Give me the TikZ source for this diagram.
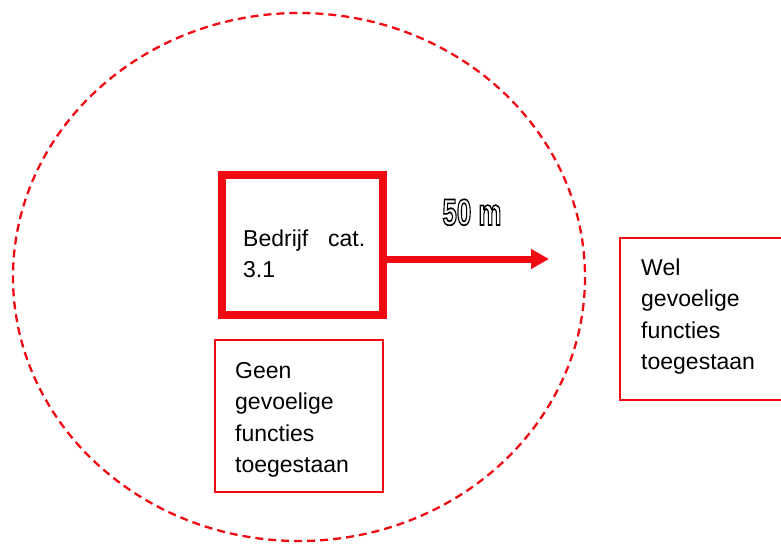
\documentclass[tikz,border=0pt]{standalone}
\usepackage{fontspec}
\setmainfont{Liberation Sans}
\usetikzlibrary{arrows.meta}
\definecolor{cred}{RGB}{240,10,20}
\newcommand{\outlinetext}[1]{\special{pdf:literal direct 2 Tr 1.6 w 0 0 0 RG 1 1 1 rg}#1\special{pdf:literal direct 0 Tr 0 0 0 rg}}
\tikzset{
  bigbox/.style={draw=cred, line width=8pt, minimum width=161pt, minimum height=140pt, inner sep=0pt, outer sep=0pt},
  thinbox/.style={draw=cred, line width=1.5pt, inner sep=0pt, outer sep=0pt},
  lbl/.style={anchor=base west, inner sep=0pt, align=left, font=\fontsize{23}{31.5}\selectfont},
  zone/.style={draw=cred, line width=2.3pt, dash pattern=on 8pt off 5pt},
  distarrow/.style={draw=cred, line width=7pt, -{Triangle[length=18pt,width=19pt]}}
}
\begin{document}
\begin{tikzpicture}[x=1pt,y=-1pt]
\useasboundingbox (0,0) rectangle (781,544);
\fill[white] (0,0) rectangle (781,544);
% zone ellipse
\draw[zone] (299,277) ellipse [x radius=286, y radius=264];
% company box
\node[bigbox] (bedrijf) at (302.5,245) {};
\node[lbl] (bedrijftxt) at (243,277.5) {\hbox to 122pt{Bedrijf\hfill cat.}\\3.1};
% arrow
\coordinate (tip) at (549,259);
\draw[distarrow] (bedrijf.east |- tip) -- (tip);
\node[anchor=base, inner sep=0pt] (dist) at (472,225) {\scalebox{0.7}[1]{\fontsize{37}{37}\selectfont\bfseries\outlinetext{50 m}}};
% Geen box
\node[thinbox, minimum width=168pt, minimum height=152pt] (geen) at (299,416) {};
\node[lbl] (geentxt) at (235,472.5) {Geen\\gevoelige\\functies\\toegestaan};
% Wel box
\node[thinbox, minimum width=180pt, minimum height=162pt] (wel) at (710,319) {};
\node[lbl] (weltxt) at (641,369.5) {Wel\\gevoelige\\functies\\toegestaan};
\end{tikzpicture}
\end{document}
